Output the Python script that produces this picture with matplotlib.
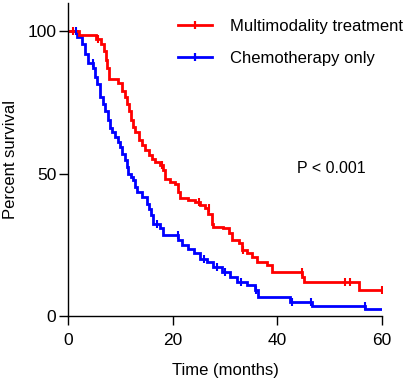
import matplotlib
matplotlib.use('Agg')
import matplotlib.pyplot as plt
from matplotlib.lines import Line2D

plt.rcParams['font.family'] = ['Liberation Sans', 'DejaVu Sans']

# Kaplan-Meier step data (time in months, percent survival)
multi_t = [0, 2.1, 5.3, 6.25, 6.9, 7.2, 7.5, 7.8, 9.6, 10.3, 10.9, 11.3, 11.6, 12.0, 12.4,
           12.8, 13.5, 14.1, 14.7, 15.4, 16.0, 16.6, 17.6, 18.2, 18.6, 19.5, 20.5, 21.1,
           21.4, 23.0, 24.3, 25.3, 26.2, 26.8, 27.5, 27.8, 29.7, 30.7, 31.3, 32.6, 33.2,
           34.2, 35.1, 36.1, 38.0, 39.0, 44.7, 45.1, 55.6, 60]
multi_s = [100, 98.8, 97.4, 95.7, 93, 90, 87, 83.4, 82, 79, 77, 74.5, 72, 69, 66.5,
           64.7, 61.8, 60, 58.2, 56.5, 55.3, 54.2, 53, 51.2, 48.3, 47.1, 46.5, 43.6,
           41.3, 40.7, 40.1, 38.9, 37.8, 36, 32.5, 31.3, 30.8, 29, 26.7, 25.5, 23.2,
           22, 20.8, 19.1, 17.9, 15.4, 13.8, 12, 9.3, 9.3]

chemo_t = [0, 1.8, 2.6, 3.3, 3.9, 4.8, 5.2, 5.5, 6.1, 6.6, 7.1, 7.6, 8.0, 8.5, 9.0, 9.5, 9.9,
           10.4, 10.9, 11.2, 11.5, 12.0, 12.5, 12.8, 13.1, 14.1, 15.1, 15.4, 15.8, 16.3,
           17.6, 18.2, 21.0, 21.7, 23.0, 24.0, 25.3, 26.5, 27.8, 29.4, 31.0, 32.3, 34.2,
           35.8, 36.4, 42.4, 46.6, 56.8, 60]
chemo_s = [100, 98, 95.7, 92, 89, 87, 84, 81.6, 77, 74.5, 72, 69, 66, 64.5, 63, 61, 59.4,
           57, 54.7, 52.5, 50, 49, 47.7, 45.5, 43.6, 41.9, 39.5, 37.5, 35.4, 32.5,
           30.8, 28.4, 26.7, 25, 23.7, 22, 20.2, 19, 17.3, 15.6, 13.8, 12, 10.9,
           9.1, 6.6, 5.0, 3.6, 2.5, 2.5]

# censored observations (time, percent)
multi_cens_t = [1.0, 5.8, 18.0, 25.0, 27.0, 33.5, 44.7, 53.0, 53.8, 60]
multi_cens_s = [100, 97.4, 53, 40.1, 37.8, 23.2, 15.4, 12, 12, 9.3]
chemo_cens_t = [1.5, 4.7, 17.0, 21.0, 26.0, 28.5, 30.0, 33.0, 36.0, 42.8, 46.4, 56.8]
chemo_cens_s = [100, 89, 32.5, 28.4, 20.2, 17.3, 15.6, 12, 9.1, 5.0, 5.0, 3.6]

labels = ['Multimodality treatment', 'Chemotherapy only']
colors = ['#FF0000', '#0000FF']
x_ticks = [0, 20, 40, 60]
y_ticks = [0, 50, 100]

fig = plt.figure(figsize=(4.10, 3.82), dpi=100)
ax = fig.add_axes([68/410, 1 - 316/382, (382-68)/410, (316-3)/382])

lw = 2.0
ax.step(chemo_t, chemo_s, where='post', color=colors[1], lw=lw, solid_joinstyle='miter')
ax.step(multi_t, multi_s, where='post', color=colors[0], lw=lw, solid_joinstyle='miter')
ax.plot(chemo_cens_t, chemo_cens_s, ls='none', marker='|', ms=5.5, mew=1.5, color=colors[1])
ax.plot(multi_cens_t, multi_cens_s, ls='none', marker='|', ms=5.5, mew=1.5, color=colors[0])

ax.set_xlim(0, 60)
ax.set_ylim(0, 110)
ax.set_xticks(x_ticks)
ax.set_yticks(y_ticks)
ax.tick_params(axis='both', direction='out', length=6.5, width=1, labelsize=12.5, color='black')
ax.tick_params(axis='x', pad=5.5)
ax.tick_params(axis='y', pad=2)
for s in ['top', 'right']:
    ax.spines[s].set_visible(False)
for s in ['left', 'bottom']:
    ax.spines[s].set_linewidth(1)
ax.spines['bottom'].set_bounds(0, 60)

ax.set_xlabel('Time (months)', fontsize=12, labelpad=11)
ax.set_ylabel('Percent survival', fontsize=12, labelpad=6.5)

handles = [Line2D([0], [0], color=c, lw=lw, marker='|', ms=6, mew=1.6) for c in colors]
leg = ax.legend(handles, labels, loc='upper left', bbox_to_anchor=(178/410, 1 - 19/382),
                bbox_transform=fig.transFigure, frameon=False, fontsize=12,
                handlelength=2.05, handletextpad=1.05, labelspacing=1.03, numpoints=1,
                borderaxespad=0, borderpad=0)

ax.text(43.8, 52, 'P < 0.001', fontsize=11.5, va='center', ha='left')

fig.savefig('out.png', dpi=100)
